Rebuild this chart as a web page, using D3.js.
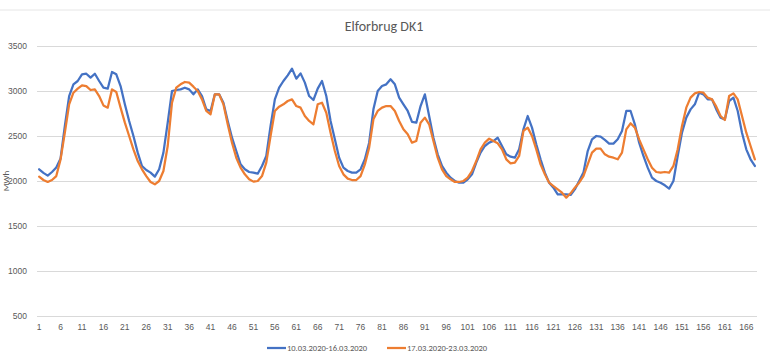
<!DOCTYPE html>
<html>
<head>
<meta charset="utf-8">
<script src="https://cdn.jsdelivr.net/npm/d3@7"></script>
<style>
  html, body { margin: 0; padding: 0; background: #fff; }
  svg { display: block; font-family: Carlito, "Liberation Sans Narrow", "Liberation Sans", sans-serif; }
</style>
</head>
<body>
<div id="chart"></div>
<script>
"use strict";

var chartTitle = "Elforbrug DK1";
var yLabel = "MWh";
var seriesNames = ["10.03.2020-16.03.2020", "17.03.2020-23.03.2020"];
var seriesColors = ["#4472C4", "#ED7D31"];
var yTicks = [500, 1000, 1500, 2000, 2500, 3000, 3500];

// hour index 1..168
var hours = d3.range(1, 169);
var xTickLabels = d3.range(1, 169, 5);

var week1 = [
  2130, 2090, 2060, 2100, 2150, 2250, 2611, 2944, 3074, 3111,
  3185, 3192, 3148, 3192, 3111, 3037, 3026, 3211, 3185, 3055,
  2852, 2667, 2500, 2315, 2167, 2122, 2093, 2048, 2130, 2315,
  2648, 3000, 3011, 3018, 3037, 3018, 2963, 3018, 2944, 2796,
  2778, 2963, 2963, 2870, 2667, 2481, 2333, 2185, 2130, 2100,
  2093, 2081, 2167, 2278, 2611, 2907, 3037, 3111, 3174, 3248,
  3137, 3196, 3093, 2944, 2900, 3026, 3111, 2944, 2667, 2463,
  2259, 2148, 2111, 2093, 2093, 2130, 2241, 2426, 2796, 3000,
  3055, 3074, 3130, 3074, 2926, 2852, 2778, 2656, 2648, 2833,
  2963, 2722, 2481, 2296, 2167, 2093, 2037, 2000, 1981, 1981,
  2019, 2074, 2204, 2315, 2389, 2426, 2444, 2481, 2389, 2296,
  2270, 2259, 2352, 2574, 2722, 2593, 2407, 2241, 2093, 1981,
  1926, 1852, 1852, 1852, 1845, 1907, 2000, 2093, 2333, 2463,
  2500, 2493, 2456, 2415, 2415, 2463, 2556, 2778, 2778, 2630,
  2426, 2278, 2148, 2037, 2000, 1981, 1952, 1915, 2000, 2278,
  2537, 2704, 2796, 2852, 2981, 2963, 2907, 2907, 2796, 2704,
  2685, 2889, 2926, 2778, 2537, 2352, 2241, 2167
];

var week2 = [
  2048, 2011, 1989, 2011, 2055, 2240, 2537, 2852, 2981, 3026,
  3063, 3055, 3011, 3018, 2944, 2840, 2815, 3018, 2989, 2815,
  2648, 2500, 2352, 2222, 2130, 2055, 1989, 1963, 2000, 2111,
  2389, 2870, 3037, 3074, 3100, 3093, 3048, 3000, 2907, 2778,
  2741, 2963, 2963, 2852, 2630, 2426, 2259, 2148, 2074, 2019,
  1993, 2000, 2055, 2204, 2500, 2778, 2826, 2852, 2889, 2907,
  2833, 2815, 2722, 2667, 2630, 2852, 2870, 2759, 2537, 2333,
  2167, 2074, 2026, 2011, 2011, 2055, 2185, 2370, 2685, 2778,
  2815, 2833, 2833, 2778, 2667, 2574, 2519, 2426, 2444, 2648,
  2704, 2630, 2444, 2259, 2130, 2055, 2019, 1989, 1989, 2000,
  2037, 2111, 2222, 2352, 2426, 2470, 2444, 2419, 2352, 2241,
  2196, 2204, 2278, 2556, 2593, 2500, 2352, 2185, 2074, 1981,
  1944, 1907, 1870, 1815, 1863, 1926, 1981, 2055, 2185, 2315,
  2359, 2359, 2296, 2270, 2259, 2241, 2315, 2574, 2641, 2593,
  2463, 2352, 2241, 2148, 2100, 2093, 2100, 2093, 2167, 2352,
  2611, 2815, 2926, 2974, 2989, 2981, 2926, 2907, 2826, 2722,
  2678, 2944, 2974, 2907, 2722, 2537, 2389, 2241
];

var width = 770, height = 362;
var plotLeft = 37, plotRight = 757, plotTop = 46, plotBottom = 316;

var svg = d3.select("#chart").append("svg")
  .attr("width", width)
  .attr("height", height);

svg.append("rect").attr("width", width).attr("height", height).attr("fill", "#fff");

// faint chart border at top
svg.append("line")
  .attr("x1", 0).attr("x2", width).attr("y1", 10).attr("y2", 10)
  .attr("stroke", "#e6e6e6").attr("stroke-width", 1);

var x = d3.scaleBand().domain(hours).range([plotLeft, plotRight]);
var y = d3.scaleLinear().domain([500, 3500]).range([plotBottom, plotTop]);

function cx(h) { return x(h) + x.bandwidth() / 2; }

// gridlines
svg.append("g").selectAll("line")
  .data(yTicks)
  .join("line")
  .attr("x1", plotLeft).attr("x2", plotRight)
  .attr("y1", function (d) { return Math.round(y(d)) + 0.5; })
  .attr("y2", function (d) { return Math.round(y(d)) + 0.5; })
  .attr("stroke", "#d9d9d9").attr("stroke-width", 1);

// y axis labels
var yAxis = d3.axisLeft(y).tickValues(yTicks).tickFormat(d3.format("d")).tickSize(0).tickPadding(10);
var gy = svg.append("g").attr("transform", "translate(" + plotLeft + ",0)").call(yAxis);
gy.select(".domain").remove();
gy.selectAll("text").attr("fill", "#595959").style("font-size", "8.5px");

// x axis labels
var xAxis = d3.axisBottom(x).tickValues(xTickLabels).tickSize(0).tickPadding(8);
var gx = svg.append("g").attr("transform", "translate(0," + plotBottom + ")").call(xAxis);
gx.select(".domain").remove();
gx.selectAll("text").attr("fill", "#595959").style("font-size", "8.5px");

// title
svg.append("text")
  .attr("x", 384).attr("y", 31)
  .attr("text-anchor", "middle")
  .attr("fill", "#595959")
  .style("font-size", "14px")
  .text(chartTitle);

// y label
svg.append("text")
  .attr("transform", "translate(9,181) rotate(-90)")
  .attr("text-anchor", "middle")
  .attr("fill", "#595959")
  .style("font-size", "9px")
  .text(yLabel);

// series lines
var line = d3.line()
  .x(function (d, i) { return cx(hours[i]); })
  .y(function (d) { return y(d); });

[week1, week2].forEach(function (values, k) {
  svg.append("path")
    .datum(values)
    .attr("fill", "none")
    .attr("stroke", seriesColors[k])
    .attr("stroke-width", 2.25)
    .attr("stroke-linejoin", "round")
    .attr("stroke-linecap", "round")
    .attr("d", line);
});

// legend
var legendX = [267, 387];
seriesNames.forEach(function (name, k) {
  var g = svg.append("g").attr("transform", "translate(" + legendX[k] + ",348)");
  g.append("line")
    .attr("x1", 0).attr("x2", 19).attr("y1", 0).attr("y2", 0)
    .attr("stroke", seriesColors[k]).attr("stroke-width", 2.25);
  g.append("text")
    .attr("x", 20).attr("y", 3)
    .attr("fill", "#595959")
    .style("font-size", "8.5px")
    .text(name);
});
</script>
</body>
</html>
